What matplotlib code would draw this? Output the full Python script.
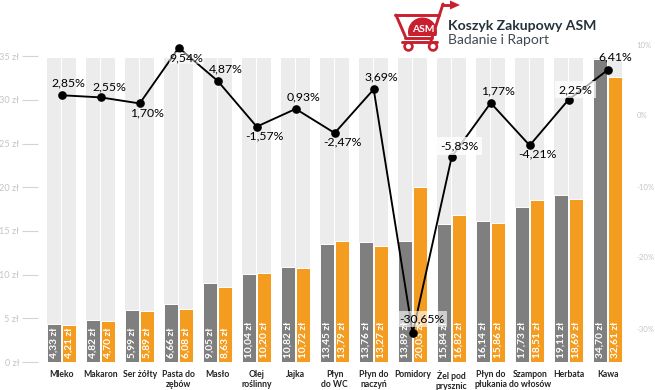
import matplotlib
matplotlib.use("Agg")
import matplotlib.pyplot as plt
import numpy as np
from matplotlib.patches import Polygon, Circle, Rectangle

plt.rcParams['font.family'] = ['Lato', 'DejaVu Sans']

categories = ["Mleko", "Makaron", "Ser żółty", "Pasta do\nzębów", "Masło", "Olej\nroślinny", "Jajka",
              "Płyn\ndo WC", "Płyn do\nnaczyń", "Pomidory", "Żel pod\nprysznic", "Płyn do\npłukania",
              "Szampon\ndo włosów", "Herbata", "Kawa"]
price_a = [4.33, 4.82, 5.99, 6.66, 9.05, 10.04, 10.82, 13.45, 13.76, 13.89, 15.84, 16.14, 17.73, 19.11, 34.70]
price_b = [4.21, 4.70, 5.89, 6.08, 8.63, 10.20, 10.72, 13.79, 13.27, 20.03, 16.82, 15.86, 18.51, 18.69, 32.61]
change = [2.85, 2.55, 1.70, 9.54, 4.87, -1.57, 0.93, -2.47, 3.69, -30.65, -5.83, 1.77, -4.21, 2.25, 6.41]
left_ticks = [0, 5, 10, 15, 20, 25, 30, 35]
right_ticks = [-30, -20, -10, 0, 10]

# label offsets from each point, in pixels (dx right, dy up)
offsets = [(7, 12), (9, 10), (7, -9), (8, -10), (8, 12), (8, -9), (8, 12), (8, -9), (8, 12),
           (9, 14), (8, 11), (7, 12), (8, -9), (7, 10), (8, 13)]
# label index: (box opacity, box padding)
boxed = {3: (.45, .05), 9: (.62, .2), 10: (.8, .28), 13: (.7, .28)}

W, H = 655, 390
fig = plt.figure(figsize=(W / 100, H / 100), dpi=100)
L, R, T, B = 38, 632, 30, 362
ax = fig.add_axes([L / W, 1 - B / H, (R - L) / W, (B - T) / H])
cx0, step = 61.7, 39.0
ax.set_xlim((L - cx0) / step, (R - cx0) / step)
ax.set_ylim(0, (B - T) / 8.74)
x = np.arange(len(categories))
bw, off = 13.7 / step, 7.6 / step

GREY, ORANGE, BG = "#7f7f7f", "#f39c1f", "#ececec"
top = 34.8
ax.bar(x - off, top, bw, color=BG, zorder=1)
ax.bar(x + off, top, bw, color=BG, zorder=1)
ax.bar(x - off, price_a, bw, color=GREY, edgecolor="white", linewidth=0.7, zorder=2)
ax.bar(x + off, price_b, bw, color=ORANGE, edgecolor="white", linewidth=0.7, zorder=2)
for i in x:
    for xx, v in ((i - off, price_a[i]), (i + off, price_b[i])):
        ax.annotate(f"{v:.2f} zł".replace(".", ","), (xx, 0), xytext=(0, 3), textcoords="offset points",
                    rotation=90, ha="center", va="bottom", color="white", fontsize=7.3, fontweight="bold",
                    zorder=3)

for s in ax.spines.values():
    s.set_visible(False)
ax.set_xticks(x, categories, fontsize=6.2, fontweight="bold", color="#222222", linespacing=1.2)
ax.tick_params(axis="x", length=0, pad=5.5)
ax.set_yticks(left_ticks, [f"{t} zł" for t in left_ticks], fontsize=6.6, color="#c4c4c4")
ax.tick_params(axis="y", length=11.5, width=0.8, color="#d4d4d4", pad=2)

ax2 = ax.twinx()
ax2.set_ylim((115.5 - B) / 7.1, (115.5 - T) / 7.1)
for s in ax2.spines.values():
    s.set_visible(False)
ax2.set_yticks(right_ticks, [f"{t}%" for t in right_ticks], fontsize=5.6, color="#c4c4c4")
ax2.tick_params(axis="y", length=0, pad=3.4)
ax2.plot(x, change, color="black", lw=1.35, marker="o", ms=5.2, zorder=5)
for i, (c, (dx, dy)) in enumerate(zip(change, offsets)):
    kw = {}
    if i in boxed:
        kw["bbox"] = dict(boxstyle=f"square,pad={boxed[i][1]}", fc="white", ec="none", alpha=boxed[i][0])
    ax2.annotate(f"{c:.2f}%".replace(".", ","), (i, c), xytext=(dx * .72, dy * .72),
                 textcoords="offset points", ha="center", va="center", fontsize=8.8,
                 color="black", zorder=6, **kw)

# logo, in pixel coordinates
lg = fig.add_axes([0, 0, 1, 1], facecolor="none")
lg.set_xlim(0, W); lg.set_ylim(H, 0); lg.axis("off")
RED = "#c8202f"
dome = Circle((422.5, 32), 14.5, fc=RED, ec="none")
lg.add_patch(dome)
dome.set_clip_path(Rectangle((400, 10), 45, 25.5, transform=lg.transData))
for xs, ys in [((395, 439), (14.5, 14.5)), ((396, 405.5), (15, 37)), ((405, 432), (37.5, 37.5)),
               ((443, 431), (4, 41)), ((442, 453), (4.5, 4.5)), ((402, 437), (42, 42))]:
    lg.plot(xs, ys, color=RED, lw=2.1, solid_capstyle="round")
lg.add_patch(Polygon([[450, 0.5], [460, 5], [450, 9.5]], closed=True, fc=RED, ec="none"))
lg.text(423, 30, "ASM", color="white", fontsize=7.4, fontweight="bold", ha="center", va="center")
for cx in (408.5, 433):
    lg.add_patch(Circle((cx, 46.5), 3.9, fc="white", ec=RED, lw=1.9))
lg.text(448.5, 26, "Koszyk Zakupowy ASM", color="#26323a", fontsize=10.1, fontweight="bold", ha="left", va="center")
lg.text(448.5, 40, "Badanie i Raport", color="#3f494f", fontsize=10, ha="left", va="center")

fig.savefig("out.png", dpi=100)
